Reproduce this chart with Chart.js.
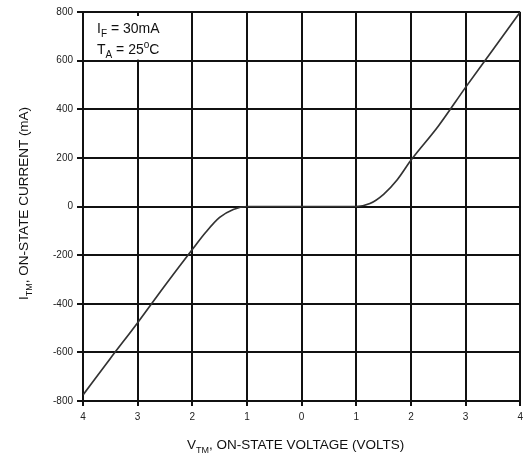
<!DOCTYPE html>
<html>
<head>
<meta charset="utf-8">
<script src="https://cdn.jsdelivr.net/npm/chart.js@4.4.1/dist/chart.umd.min.js"></script>
<style>
html,body{margin:0;padding:0;background:#fff;}
#wrap{width:528px;height:455px;position:relative;}
</style>
</head>
<body>
<div id="wrap"><canvas id="c" width="528" height="455"></canvas></div>
<script>
// Data
const voltage = [-4, -3.5, -3, -2.5, -2, -1.75, -1.5, -1.25, -1, -0.5, 0, 0.5, 1, 1.25, 1.5, 1.75, 2, 2.5, 3, 3.5, 4];
const current = [-775, -625, -478, -325, -177, -105, -45, -12, 0, 0, 0, 0, 0, 12, 50, 110, 190, 330, 490, 645, 800];
const xTickValues = [-4, -3, -2, -1, 0, 1, 2, 3, 4];
const xTickLabels = ['4', '3', '2', '1', '0', '1', '2', '3', '4'];
const yTickValues = [-800, -600, -400, -200, 0, 200, 400, 600, 800];
const yTickLabels = ['-800', '-600', '-400', '-200', '0', '200', '400', '600', '800'];
const noteLines = [['I', 'F', ' = 30mA'], ['T', 'A', ' = 25°C']];
const xTitle = ['V', 'TM', ', ON-STATE VOLTAGE (VOLTS)'];
const yTitle = ['I', 'TM', ', ON-STATE CURRENT (mA)'];

const FONT = '"Liberation Sans", Arial, sans-serif';

function drawSub(ctx, parts, x, y, size, align) {
  const subSize = Math.round(size * 0.7);
  ctx.font = size + 'px ' + FONT;
  const w0 = ctx.measureText(parts[0]).width;
  const w2 = ctx.measureText(parts[2]).width;
  ctx.font = subSize + 'px ' + FONT;
  const w1 = ctx.measureText(parts[1]).width;
  const total = w0 + w1 + w2;
  let sx = align === 'center' ? x - total / 2 : x;
  ctx.textBaseline = 'alphabetic';
  ctx.textAlign = 'left';
  ctx.font = size + 'px ' + FONT;
  ctx.fillText(parts[0], sx, y);
  ctx.font = subSize + 'px ' + FONT;
  ctx.fillText(parts[1], sx + w0, y + size * 0.3);
  ctx.font = size + 'px ' + FONT;
  let rest = parts[2];
  if (rest.indexOf('°') >= 0) {
    const idx = rest.indexOf('°');
    const a = rest.slice(0, idx), b = rest.slice(idx + 1);
    let px = sx + w0 + w1;
    ctx.fillText(a, px, y);
    px += ctx.measureText(a).width;
    ctx.font = subSize + 'px ' + FONT;
    ctx.fillText('o', px, y - size * 0.4);
    px += ctx.measureText('o').width;
    ctx.font = size + 'px ' + FONT;
    ctx.fillText(b, px, y);
  } else {
    ctx.fillText(rest, sx + w0 + w1, y);
  }
}

const decor = {
  id: 'decor',
  beforeDatasetsDraw(chart) {
    const ctx = chart.ctx;
    const xs = chart.scales.x, ys = chart.scales.y;
    const left = xs.getPixelForValue(-4) + 10;
    const right = xs.getPixelForValue(-2.6);
    const top = ys.getPixelForValue(800) + 4;
    const bottom = ys.getPixelForValue(600) - 1;
    ctx.save();
    ctx.fillStyle = '#fff';
    ctx.fillRect(left, top, right - left, bottom - top);
    ctx.fillStyle = '#111';
    drawSub(ctx, noteLines[0], left + 4, top + 17, 14, 'left');
    drawSub(ctx, noteLines[1], left + 4, top + 38, 14, 'left');
    ctx.restore();
  },
  afterDraw(chart) {
    const ctx = chart.ctx;
    const a = chart.chartArea;
    ctx.save();
    ctx.fillStyle = '#111';
    drawSub(ctx, xTitle, (a.left + a.right) / 2 - 6, 449, 13.5, 'center');
    ctx.translate(28, (a.top + a.bottom) / 2 - 3);
    ctx.rotate(-Math.PI / 2);
    drawSub(ctx, yTitle, 0, 0, 13.5, 'center');
    ctx.restore();
  }
};

new Chart(document.getElementById('c'), {
  type: 'line',
  data: {
    datasets: [{
      data: voltage.map((v, i) => ({ x: v, y: current[i] })),
      borderColor: '#333',
      borderWidth: 1.7,
      pointRadius: 0,
      fill: false,
      cubicInterpolationMode: 'monotone'
    }]
  },
  options: {
    responsive: false,
    animation: false,
    devicePixelRatio: 1,
    layout: { padding: { left: 0, top: 12, right: 6, bottom: 0 } },
    plugins: { legend: { display: false }, tooltip: { enabled: false } },
    scales: {
      x: {
        type: 'linear',
        min: -4, max: 4,
        afterBuildTicks(s) { s.ticks = xTickValues.map(v => ({ value: v })); },
        afterFit(s) { s.height = 54; },
        ticks: {
          callback: (v) => xTickLabels[xTickValues.indexOf(v)],
          color: '#222',
          font: { size: 10, family: FONT },
          padding: 5,
          maxRotation: 0
        },
        grid: { color: '#111', lineWidth: 2, tickLength: 5 },
        border: { color: '#111', width: 2 }
      },
      y: {
        type: 'linear',
        min: -800, max: 800,
        afterBuildTicks(s) { s.ticks = yTickValues.map(v => ({ value: v })); },
        afterFit(s) { s.width = 83; },
        ticks: {
          callback: (v) => yTickLabels[yTickValues.indexOf(v)],
          color: '#222',
          font: { size: 10, family: FONT },
          padding: 4
        },
        grid: { color: '#111', lineWidth: 2, tickLength: 6 },
        border: { color: '#111', width: 2 }
      }
    }
  },
  plugins: [decor]
});
</script>
</body>
</html>
